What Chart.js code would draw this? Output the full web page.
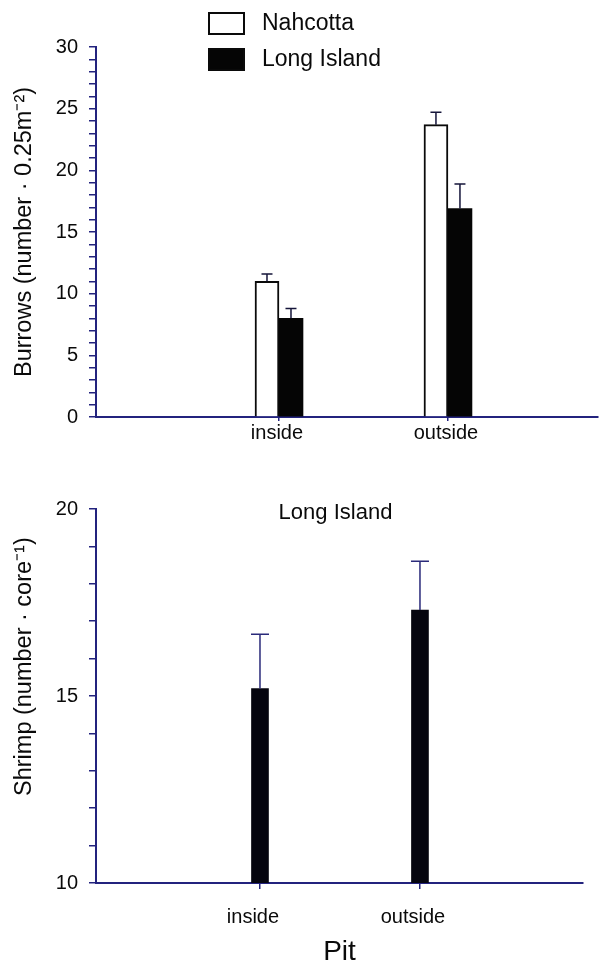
<!DOCTYPE html>
<html>
<head>
<meta charset="utf-8">
<script src="https://cdn.jsdelivr.net/npm/chart.js@4.4.1/dist/chart.umd.min.js"></script>
<style>
  html, body { margin: 0; padding: 0; background: #fff; }
  #wrap { position: relative; width: 600px; height: 966px; }
  canvas { position: absolute; left: 0; }
  #top { top: 0; }
  #bottom { top: 466px; }
</style>
</head>
<body>
<div id="wrap">
  <canvas id="top" width="600" height="466"></canvas>
  <canvas id="bottom" width="600" height="500"></canvas>
</div>
<script>
// ================= DATA =================
const pitLabels = ["inside", "outside"];
const pitPos = [1, 2];

const burrowSeries = ["Nahcotta", "Long Island"];
const nahcottaBurrows = [11.0, 23.7];
const nahcottaErr = [0.6, 1.0];
const longIslandBurrows = [8.0, 16.9];
const longIslandErr = [0.8, 2.0];
const burrowTicks = [0, 5, 10, 15, 20, 25, 30];

const shrimpTitle = "Long Island";
const shrimp = [15.2, 17.3];
const shrimpErr = [1.45, 1.3];
const shrimpTicks = [10, 15, 20];

// ================= STYLE =================
const axisColor = "#23237e";
const ink = "#0a0a0a";
Chart.defaults.font.family = "'Liberation Sans', Arial, sans-serif";
Chart.defaults.color = ink;

// ================= PLUGINS =================
const errorBars = {
  id: "errorBars",
  afterDatasetsDraw(chart, args, opts) {
    const ctx = chart.ctx;
    const yScale = chart.scales.y;
    chart.data.datasets.forEach((ds, i) => {
      if (!ds.errors) return;
      chart.getDatasetMeta(i).data.forEach((bar, j) => {
        const top = yScale.getPixelForValue(ds.data[j].y + ds.errors[j]);
        ctx.save();
        ctx.strokeStyle = opts.color;
        ctx.lineWidth = opts.width;
        ctx.beginPath();
        ctx.moveTo(bar.x, bar.y);
        ctx.lineTo(bar.x, top);
        ctx.moveTo(bar.x - opts.cap / 2, top);
        ctx.lineTo(bar.x + opts.cap / 2, top);
        ctx.stroke();
        ctx.restore();
      });
    });
  }
};

const boxLegend = {
  id: "boxLegend",
  afterDraw(chart, args, opts) {
    if (!opts.show) return;
    const ctx = chart.ctx;
    ctx.save();
    chart.data.datasets.forEach((ds, i) => {
      const y = opts.top + i * opts.gap;
      ctx.fillStyle = ds.backgroundColor;
      ctx.fillRect(opts.left, y, opts.boxW, opts.boxH);
      ctx.strokeStyle = ink;
      ctx.lineWidth = 2;
      ctx.strokeRect(opts.left + 1, y + 1, opts.boxW - 2, opts.boxH - 2);
      ctx.fillStyle = ink;
      ctx.font = opts.font;
      ctx.textBaseline = "middle";
      ctx.fillText(ds.label, opts.left + opts.boxW + 17, y + opts.boxH / 2);
    });
    ctx.restore();
  }
};

const innerTitle = {
  id: "innerTitle",
  afterDraw(chart, args, opts) {
    if (!opts.text) return;
    const ctx = chart.ctx;
    const area = chart.chartArea;
    ctx.save();
    ctx.fillStyle = ink;
    ctx.font = opts.font;
    ctx.textAlign = "center";
    ctx.textBaseline = "middle";
    ctx.fillText(opts.text, (area.left + area.right) / 2 + opts.dx, opts.y);
    ctx.restore();
  }
};

// shared axis pieces
function xAxis(min, max, tickLen, pad, labelOffset, height, title) {
  return {
    type: "linear", min: min, max: max, offset: false,
    grid: { offset: false, drawOnChartArea: false, tickLength: tickLen, color: axisColor, lineWidth: 1.5 },
    border: { color: axisColor, width: 2 },
    afterBuildTicks: s => { s.ticks = pitPos.map(v => ({ value: v })); },
    afterFit: s => { s.height = height; },
    ticks: {
      callback: v => pitLabels[pitPos.indexOf(v)] ?? "",
      font: { size: 20 }, padding: pad, labelOffset: labelOffset,
      maxRotation: 0, autoSkip: false
    },
    title: title
  };
}

function yAxis(min, max, labels, title) {
  return {
    min: min, max: max,
    grid: { drawOnChartArea: false, tickLength: 7, color: axisColor, lineWidth: 1.5 },
    border: { color: axisColor, width: 2 },
    afterFit: s => { s.width = 96; },
    ticks: {
      stepSize: 1, autoSkip: false, padding: 11,
      font: { size: 20 },
      callback: v => labels.includes(v) ? v : ""
    },
    title: {
      display: true, text: title, font: { size: 23.5 },
      padding: { top: 10, bottom: 0 }
    }
  };
}

// ================= BURROWS =================
new Chart(document.getElementById("top"), {
  type: "bar",
  data: {
    datasets: [
      {
        label: burrowSeries[0],
        data: pitPos.map((x, i) => ({ x: x, y: nahcottaBurrows[i] })),
        errors: nahcottaErr,
        backgroundColor: "#ffffff",
        borderColor: ink,
        borderWidth: 2
      },
      {
        label: burrowSeries[1],
        data: pitPos.map((x, i) => ({ x: x, y: longIslandBurrows[i] })),
        errors: longIslandErr,
        backgroundColor: "#050505",
        borderWidth: 0
      }
    ]
  },
  options: {
    responsive: false,
    animation: false,
    datasets: { bar: { barThickness: 24 } },
    layout: { padding: { top: 47, right: 2, left: 0, bottom: 0 } },
    plugins: {
      legend: { display: false },
      tooltip: { enabled: false },
      errorBars: { color: "#15153a", width: 1.5, cap: 11 },
      boxLegend: { show: true, left: 208, top: 12, gap: 36, boxW: 37, boxH: 23, font: "23px 'Liberation Sans', Arial, sans-serif" },
      innerTitle: {}
    },
    scales: {
      x: xAxis(-0.083, 2.888, 4, 0, -2, 49, { display: false }),
      y: yAxis(0, 30, burrowTicks, "Burrows (number · 0.25m⁻²)")
    }
  },
  plugins: [errorBars, boxLegend, innerTitle]
});

// ================= SHRIMP =================
new Chart(document.getElementById("bottom"), {
  type: "bar",
  data: {
    datasets: [
      {
        label: shrimpTitle,
        data: pitPos.map((x, i) => ({ x: x, y: shrimp[i] })),
        errors: shrimpErr,
        backgroundColor: "#05050f",
        borderWidth: 0
      }
    ]
  },
  options: {
    responsive: false,
    animation: false,
    datasets: { bar: { barThickness: 17 } },
    layout: { padding: { top: 43, right: 17, left: 0, bottom: 0 } },
    plugins: {
      legend: { display: false },
      tooltip: { enabled: false },
      errorBars: { color: "#2a2a7a", width: 1.5, cap: 18 },
      boxLegend: { show: false },
      innerTitle: { text: shrimpTitle, y: 47, dx: -4, font: "22px 'Liberation Sans', Arial, sans-serif" }
    },
    scales: {
      x: xAxis(-0.025, 3.019, 6, 16, -7, 83, {
        display: true, text: "Pit", font: { size: 28, lineHeight: 1 },
        padding: { top: 0, bottom: 0 }
      }),
      y: yAxis(10, 20, shrimpTicks, "\u2002".repeat(5) + "Shrimp (number · core⁻¹)")
    }
  },
  plugins: [errorBars, boxLegend, innerTitle]
});
</script>
</body>
</html>
